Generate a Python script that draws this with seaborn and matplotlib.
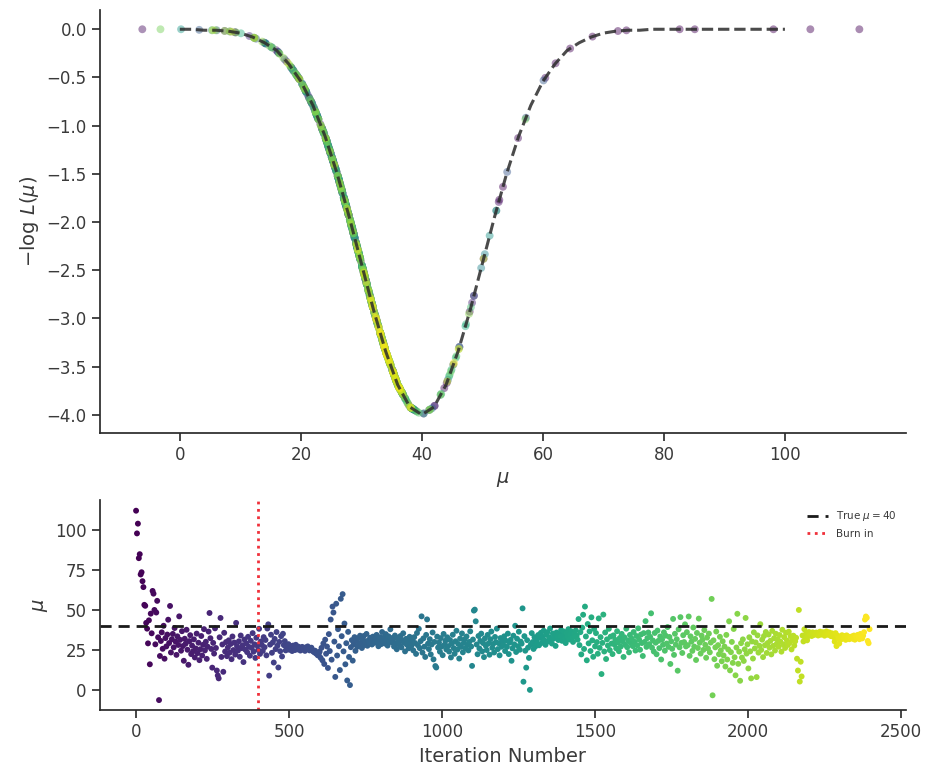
import numpy as np
import pandas as pd
import matplotlib
matplotlib.use("Agg")
import matplotlib.pyplot as plt
import seaborn as sns

# curve, mu = 0..100 every 2
MU_GRID = list(range(0, 101, 2))
NEG_LOG_L = [
    -0.00, -0.00, -0.01, -0.01, -0.02, -0.04, -0.08, -0.14, -0.22, -0.36,
    -0.54, -0.79, -1.11, -1.50, -1.95, -2.43, -2.91, -3.34, -3.69, -3.92,
    -4.00,
    -3.92, -3.69, -3.34, -2.91, -2.43, -1.95, -1.50, -1.11, -0.79, -0.54,
    -0.36, -0.22, -0.14, -0.08, -0.04, -0.02, -0.01, -0.01, -0.00, -0.00,
    -0.00, -0.00, -0.00, -0.00, -0.00, -0.00, -0.00, -0.00, -0.00, -0.00,
]

# MCMC trace, one value every 3 iterations (each row = 60 iterations)
STEP = 3
TRACE = [
    112.3, 98.1, 104.2, 82.6, 85.1, 72.4, 73.8, 68.2, 64.5, 53.4, 52.8, 42.1, 38.5, 29.3, 43.7, 16.2, 47.9, 35.6, 62.1, 60.4,
    50.2, 28.7, 48.6, 55.9, 33.1, -6.2, 21.4, 30.8, 36.2, 25.9, 40.3, 19.7, 32.6, 27.4, 34.8, 44.1, 29.5, 52.7, 23.6, 31.9,
    35.2, 26.8, 38.9, 30.4, 22.1, 33.7, 28.3, 46.2, 31.5, 24.7, 36.9, 27.6, 18.4, 32.2, 29.1, 37.8, 25.3, 15.9, 30.7, 34.4,
    22.6, 27.9, 24.3, 31.8, 20.5, 26.1, 35.4, 23.2, 29.7, 18.8, 25.6, 33.9, 21.7, 28.4, 38.2, 24.9, 30.3, 19.6, 27.2, 36.7,
    48.3, 32.5, 25.8, 14.1, 29.6, 22.9, 38.7, 26.4, 12.3, 9.2, 7.4, 33.1, 45.2, 20.8, 28.6, 11.5, 35.9, 24.2, 30.1, 21.3,
    26.7, 31.2, 23.5, 28.9, 19.4, 33.6, 25.1, 29.8, 22.3, 42.1, 27.5, 24.8, 30.6, 20.9, 34.2, 26.3, 28.1, 17.6, 31.7, 25.4,
    29.3, 23.8, 33.4, 27.1, 21.6, 30.9, 26.5, 35.7, 24.1, 28.7, 20.2, 32.8, 27.9, 25.2, 38.4, 22.7, 30.5, 28.3, 24.6, 33.2,
    26.9, 31.4, 21.8, 38.6, 41.2, 9.1, 28.5, 34.7, 23.4, 29.9, 17.3, 32.1, 25.7, 36.4, 27.8, 14.2, 30.2, 24.4, 33.8, 21.1,
    35.3, 28.2, 30.7, 24.9, 27.4, 26.1, 28.8, 25.3, 27.6, 26.8, 24.5, 27.9, 26.2, 25.1, 28.4, 26.7, 25.5, 27.2, 26.4, 24.8,
    25.9, 27.1, 26.3, 25.2, 24.6, 26.8, 25.7, 27.4, 26.1, 24.9, 25.5, 26.6, 25.3, 24.2, 23.8, 24.7, 22.9, 23.5, 21.8, 22.6,
    24.1, 20.3, 26.5, 18.7, 29.2, 16.4, 31.6, 22.8, 27.3, 13.9, 35.1, 24.5, 44.2, 19.1, 52.3, 48.6, 30.4, 8.3, 54.1, 21.7,
    38.2, 27.5, 12.6, 57.2, 33.8, 60.1, 24.3, 41.7, 16.2, 29.4, 6.1, 36.5, 20.8, 3.2, 26.9, 31.3, 18.5, 28.7, 33.2, 24.6,
    30.8, 27.2, 32.5, 28.9, 34.1, 29.6, 26.4, 31.7, 33.9, 28.3, 30.5, 35.2, 27.8, 31.1, 29.4, 32.8, 30.2, 28.6, 33.5, 31.9,
    29.7, 32.3, 34.6, 30.1, 27.5, 31.8, 33.2, 28.8, 36.4, 30.7, 32.9, 29.2, 35.1, 31.4, 27.9, 33.7, 30.3, 38.1, 32.6, 29.8,
    31.5, 27.3, 34.2, 29.1, 25.6, 32.7, 30.4, 28.2, 33.9, 26.8, 31.2, 35.6, 29.7, 24.3, 32.1, 28.5, 30.9, 26.2, 33.4, 29.3,
    27.8, 31.6, 24.9, 33.2, 29.5, 22.7, 35.8, 28.1, 38.4, 26.3, 30.7, 46.2, 23.5, 32.4, 27.2, 20.8, 34.6, 44.3, 29.1, 25.7,
    31.9, 22.4, 28.6, 36.1, 19.3, 30.2, 15.1, 14.2, 33.5, 26.7, 29.8, 24.1, 32.6, 27.3, 21.9, 35.2, 28.4, 30.9, 25.5, 33.1,
    27.6, 24.2, 31.4, 20.5, 29.1, 34.7, 26.3, 22.8, 30.6, 37.2, 25.4, 28.9, 19.8, 32.3, 27.1, 35.5, 23.7, 29.6, 31.8, 26.2,
    33.6, 28.4, 24.9, 30.2, 36.8, 27.3, 15.2, 31.7, 49.8, 50.4, 43.1, 28.6, 22.5, 33.9, 26.1, 30.8, 35.4, 24.3, 29.5, 20.7,
    32.4, 27.8, 25.1, 34.6, 29.3, 22.2, 31.9, 36.7, 26.5, 28.9, 23.6, 33.3, 30.1, 38.5, 25.7, 29.4, 21.8, 32.6, 27.2, 30.8,
    28.3, 33.7, 24.5, 30.9, 27.1, 35.4, 22.6, 29.8, 31.5, 18.4, 26.2, 34.1, 28.7, 40.3, 23.9, 32.2, 27.5, 36.6, 25.3, 30.4,
    29.1, 51.2, 5.3, 33.8, 24.7, 14.1, 31.3, 26.6, 20.2, 0.2, 28.5, 35.7, 30.1, 25.8, 33.2, 27.4, 31.6, 29.3, 34.5, 28.1,
    32.7, 35.9, 29.6, 33.4, 37.2, 31.1, 28.4, 34.8, 36.3, 30.5, 33.1, 38.6, 31.9, 29.2, 35.5, 32.3, 34.9, 27.7, 36.1, 33.6,
    31.4, 35.2, 33.8, 37.6, 30.9, 34.3, 36.7, 32.1, 29.5, 35.8, 33.3, 38.2, 31.7, 34.6, 36.9, 32.8, 30.2, 35.1, 33.5, 37.4,
    34.1, 31.6, 44.5, 28.2, 36.3, 22.4, 39.1, 47.2, 25.8, 52.3, 33.6, 18.7, 41.4, 29.3, 36.8, 24.5, 45.6, 31.2, 20.9, 38.3,
    27.4, 35.7, 30.1, 22.8, 44.9, 26.5, 33.2, 10.1, 29.6, 47.3, 24.2, 36.1, 19.5, 31.8, 27.9, 38.4, 25.1, 33.5, 29.2, 22.6,
    34.3, 28.7, 31.5, 26.2, 36.9, 29.8, 24.4, 32.7, 27.3, 35.2, 30.6, 20.8, 33.1, 28.4, 38.5, 26.9, 31.2, 23.7, 34.6, 29.4,
    32.2, 27.6, 36.4, 30.3, 24.8, 33.9, 28.1, 38.7, 31.6, 25.3, 34.8, 29.5, 21.4, 35.7, 30.2, 43.2, 27.1, 32.6, 36.1, 28.8,
    33.4, 48.1, 26.6, 31.1, 24.2, 35.8, 29.7, 22.5, 37.3, 30.9, 26.3, 33.6, 19.2, 31.8, 28.4, 36.2, 24.7, 34.1, 29.2, 39.5,
    27.1, 33.3, 16.4, 30.6, 25.9, 44.6, 22.1, 35.3, 28.5, 31.9, 12.2, 38.1, 26.8, 45.7, 29.6, 23.3, 34.4, 30.1, 41.2, 27.4,
    36.3, 28.2, 46.1, 21.5, 33.7, 30.4, 24.6, 39.2, 27.3, 32.1, 18.9, 35.8, 26.4, 44.8, 29.7, 22.9, 34.2, 31.5, 25.2, 37.6,
    28.4, 20.3, 32.9, 26.1, 35.4, 23.7, 29.8, 57.1, -3.2, 31.2, 19.4, 26.8, 36.7, 15.3, 28.2, 22.5, 33.4, 24.9, 18.1, 30.6,
    21.7, 27.3, 14.8, 34.6, 19.2, 25.5, 43.1, 12.4, 23.8, 30.2, 17.1, 38.3, 20.6, 9.3, 26.7, 47.8, 16.5, 24.1, 5.9, 29.4,
    20.4, 31.8, 18.3, 25.6, 45.2, 22.9, 28.7, 13.6, 33.1, 24.3, 7.4, 30.5, 19.8, 36.2, 26.1, 29.9, 8.2, 34.3, 23.5, 27.8,
    41.3, 25.2, 31.6, 20.7, 33.9, 28.1, 36.4, 23.3, 29.5, 34.8, 26.6, 30.9, 22.4, 37.1, 27.7, 32.5, 24.8, 35.3, 29.1, 31.7,
    27.2, 34.5, 30.3, 24.1, 37.8, 28.6, 33.2, 26.4, 35.9, 31.1, 28.3, 36.6, 29.7, 33.8, 25.5, 31.4, 34.1, 27.9, 30.6, 32.8,
    19.7, 12.3, 50.2, 5.4, 17.8, 8.6, 34.2, 30.5, 38.1, 32.4, 35.6, 31.2, 33.7, 36.4, 34.8, 35.3, 33.9, 36.2, 34.5, 35.7,
    34.9, 36.1, 35.4, 34.2, 35.8, 36.6, 34.7, 35.2, 36.3, 35.5, 34.1, 35.9, 36.8, 35.1, 34.6, 36.2, 35.3, 33.8, 35.6, 34.3,
    33.2, 30.4, 35.7, 27.6, 34.1, 32.3, 29.2, 33.6, 31.8, 34.4, 33.1, 32.5, 33.9, 31.5, 34.3, 32.8, 33.5, 31.9, 33.2, 32.6,
    33.7, 32.1, 34.2, 31.6, 33.4, 32.9, 34.6, 33.1, 31.9, 35.2, 33.8, 32.4, 34.1, 36.3, 44.2, 46.1, 45.3, 30.8, 29.4, 38.2,
]
TRUE_MU = 40
BURN_IN = 400

sns.set_theme(style="ticks", context="notebook")
grey = "#3a3a3a"
plt.rcParams.update({"text.color": grey, "axes.labelcolor": grey,
                     "xtick.labelcolor": grey, "ytick.labelcolor": grey,
                     "axes.edgecolor": "#2a2a2a"})

curve = pd.DataFrame({"mu": MU_GRID, "nll": NEG_LOG_L})
samples = pd.DataFrame({"iter": np.arange(len(TRACE)) * STEP, "mu": TRACE})
# place each sample on the curve
samples["nll"] = np.interp(samples["mu"], curve["mu"], curve["nll"])
hue_norm = (0, samples["iter"].max())

fig = plt.figure(figsize=(9.29, 7.81), dpi=100)
ax1 = fig.add_axes([0.1076, 0.4456, 0.8676, 0.5416])
ax2 = fig.add_axes([0.1076, 0.0909, 0.8676, 0.2689])

# top: likelihood curve with samples on it
sns.scatterplot(data=samples, x="mu", y="nll", hue="iter", palette="viridis",
                hue_norm=hue_norm, s=32, alpha=0.45, linewidth=0,
                legend=False, ax=ax1)
sns.lineplot(data=curve, x="mu", y="nll", color="#2b2b2b", alpha=0.85,
             linewidth=2.2, linestyle="--", dashes=(3.5, 2), ax=ax1)
ax1.set_xlim(-13.2, 120)
ax1.set_ylim(-4.19, 0.2)
ax1.set_xticks([0, 20, 40, 60, 80, 100])
ax1.set_yticks([0.0, -0.5, -1.0, -1.5, -2.0, -2.5, -3.0, -3.5, -4.0])
ax1.set_xlabel(r"$\mu$", fontsize=14)
ax1.set_ylabel(r"$-\log\,L(\mu)$", fontsize=14)

# bottom: trace
sns.scatterplot(data=samples, x="iter", y="mu", hue="iter", palette="viridis",
                hue_norm=hue_norm, s=18, linewidth=0, legend=False, ax=ax2)
ax2.axhline(TRUE_MU, color="#1a1a1a", linestyle="--", linewidth=2,
            dashes=(4, 2.5), label=r"True $\mu = 40$")
ax2.axvline(BURN_IN, color="#f0303a", linestyle=":", linewidth=2,
            label="Burn in")
ax2.set_xlim(-118, 2516)
ax2.set_ylim(-12.4, 119)
ax2.set_xticks([0, 500, 1000, 1500, 2000, 2500])
ax2.set_yticks([0, 25, 50, 75, 100])
ax2.set_xlabel("Iteration Number", fontsize=14)
ax2.set_ylabel(r"$\mu$", fontsize=14)
ax2.legend(loc="upper right", frameon=False, fontsize=7.5)

for ax in (ax1, ax2):
    ax.tick_params(labelsize=12, length=6, width=1.2)
    sns.despine(ax=ax)

fig.savefig("out.png", dpi=100)
